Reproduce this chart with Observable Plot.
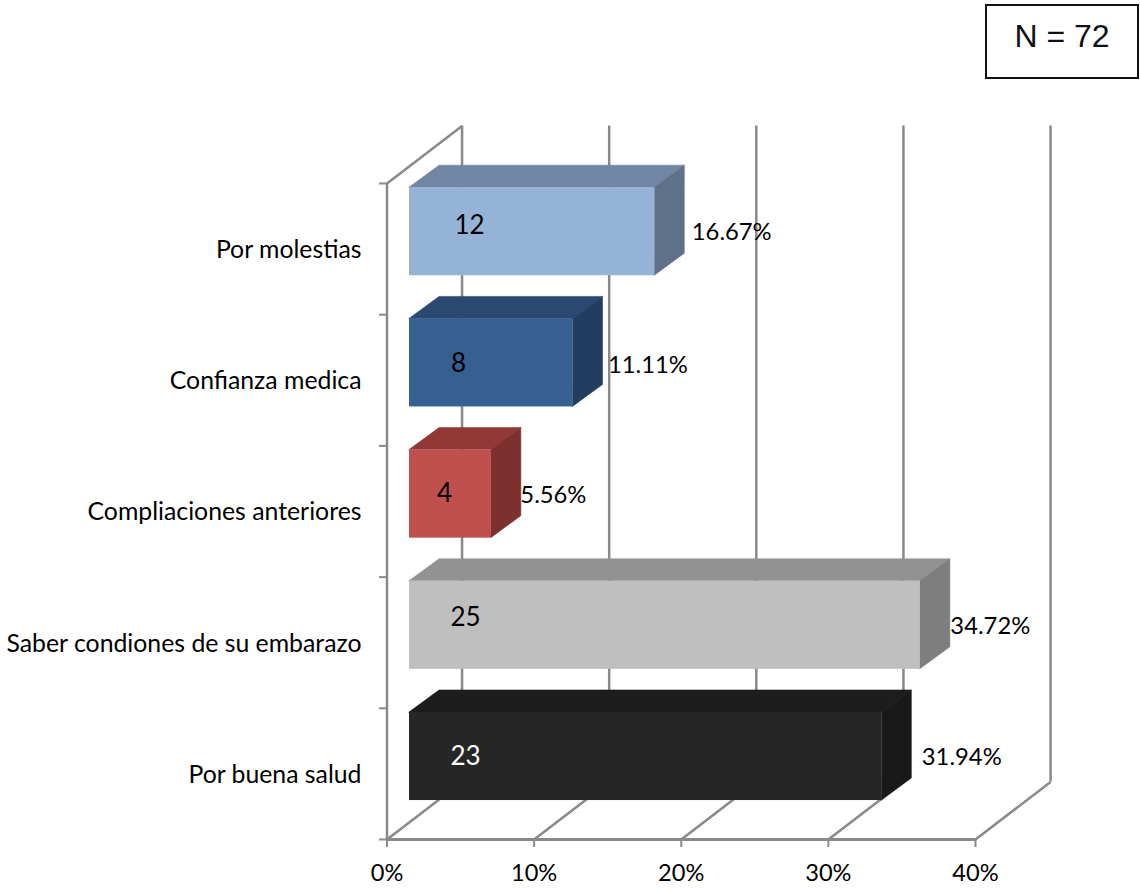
<!DOCTYPE html>
<html>
<head>
<meta charset="utf-8">
<script src="https://cdn.jsdelivr.net/npm/d3@7"></script>
<script src="https://cdn.jsdelivr.net/npm/@observablehq/plot@0.6"></script>
<style>
html,body{margin:0;padding:0;background:#fff;}
#wrap{position:relative;width:1140px;height:888px;overflow:hidden;}
#n{position:absolute;left:985px;top:4px;width:150px;height:71px;border:2px solid #111;box-sizing:content-box;
   font:32px "Liberation Sans",Arial,sans-serif;color:#111;text-align:center;line-height:60px;}
</style>
</head>
<body>
<div id="wrap"><div id="n">N = 72</div></div>
<script>
// Data, bottom row first
const categories = ["Por buena salud","Saber condiones de su embarazo","Compliaciones anteriores","Confianza medica","Por molestias"];
const counts = [23,25,4,8,12];
const percents = [31.94,34.72,5.56,11.11,16.67];
const barLengths = [32.1,34.72,5.56,11.11,16.67];
const xTicks = [0,10,20,30,40];

// Styling tables
const frontColors = ["#262626","#BFBFBF","#C0504D","#376092","#95B3D7"];
const topColors   = ["#1D1D1D","#929292","#923937","#2A4870","#7186A3"];
const sideColors  = ["#191919","#7E7E7E","#7C312F","#213D5F","#5F7089"];
const countInk    = ["#fff","#000","#000","#000","#000"];
const countNudge  = [[56,0],[56,-8],[35,0],[49,1],[60,-6]];
const pctNudge    = [[10,1],[0,1],[-1,1],[5,2],[7,1]];

// 3D projection, in scale units
const barStart = 1.53, barLow = 0.297, barHigh = 0.968;
const barDx = 30/14.7, barDy = 22/131.2;
const wallDx = 75/14.7, wallDy = 57.5/131.2;
const grid = "#898989";

const rows = categories.map((name,i)=>({name,i,count:counts[i],pct:percents[i],
  start:barStart,end:barStart+barLengths[i],low:i+barLow,high:i+barHigh}));

const topFaces = rows.flatMap(r=>[
  {i:r.i,fill:topColors[r.i],x1:r.start,x2:r.end,y1:r.high,y2:r.high},
  {i:r.i,fill:topColors[r.i],x1:r.start+barDx,x2:r.end+barDx,y1:r.high+barDy,y2:r.high+barDy}]);
const sideFaces = rows.flatMap(r=>[
  {i:r.i,fill:sideColors[r.i],x1:r.end,x2:r.end,y1:r.low,y2:r.high},
  {i:r.i,fill:sideColors[r.i],x1:r.end+barDx,x2:r.end+barDx,y1:r.low+barDy,y2:r.high+barDy}]);

const chart = Plot.plot({
  width:1140,height:888,
  marginLeft:387,marginRight:165,marginTop:183,marginBottom:49,
  x:{domain:[0,40],range:[386.5,975]},
  y:{domain:[0,5],range:[839,183]},
  color:{type:"identity"},
  style:{background:"transparent",color:"#000",fontFamily:"Lato, sans-serif"},
  marks:[
    // back wall verticals
    Plot.ruleX(xTicks,{x:d=>d+wallDx,y1:wallDy,y2:5+wallDy,stroke:grid,strokeWidth:2.5}),
    // floor diagonals
    Plot.link(xTicks,{x1:d=>d,y1:0,x2:d=>d+wallDx,y2:wallDy,stroke:grid,strokeWidth:2.5}),
    // left wall
    Plot.ruleX([0],{y1:0,y2:5,stroke:grid,strokeWidth:2.5}),
    Plot.link([0],{x1:0,y1:5,x2:wallDx,y2:5+wallDy,stroke:grid,strokeWidth:2.5}),
    Plot.ruleY([0],{x1:0,x2:40,stroke:grid,strokeWidth:3}),
    // axes
    Plot.axisX({ticks:xTicks,tickFormat:d=>d+"%",tickSize:8,tickPadding:17,stroke:grid,strokeWidth:2,fontSize:23.6,label:null,fill:"#000"}),
    Plot.axisY({ticks:[0,1,2,3,4,5],tickFormat:()=>"",tickSize:8,stroke:grid,strokeWidth:2,label:null}),
    // bars
    Plot.area(topFaces,{x1:"x1",x2:"x2",y1:"y1",y2:"y2",z:"i",fill:"fill",stroke:"fill",strokeWidth:0.6,curve:"linear"}),
    Plot.area(sideFaces,{x1:"x1",x2:"x2",y1:"y1",y2:"y2",z:"i",fill:"fill",stroke:"fill",strokeWidth:0.6,curve:"linear"}),
    Plot.rect(rows,{x1:"start",x2:"end",y1:"low",y2:"high",fill:d=>frontColors[d.i]}),
    // category labels
    Plot.text(rows,{x:0,y:d=>d.i+0.5,text:"name",textAnchor:"end",dx:-25.5,dy:1,fontSize:24.8,fill:"#000"}),
    // count labels
    ...rows.map(r=>Plot.text([r],{x:"start",y:d=>(d.low+d.high)/2,text:"count",textAnchor:"middle",
      dx:countNudge[r.i][0],dy:countNudge[r.i][1],fontSize:26,fill:countInk[r.i]})),
    // percent labels
    ...rows.map(r=>Plot.text([r],{x:d=>d.end+barDx,y:d=>(d.low+d.high)/2,text:d=>d.pct.toFixed(2)+"%",textAnchor:"start",
      dx:pctNudge[r.i][0],dy:pctNudge[r.i][1],fontSize:23.8,fill:"#000"}))
  ]
});
document.getElementById("wrap").appendChild(chart);
</script>
</body>
</html>
